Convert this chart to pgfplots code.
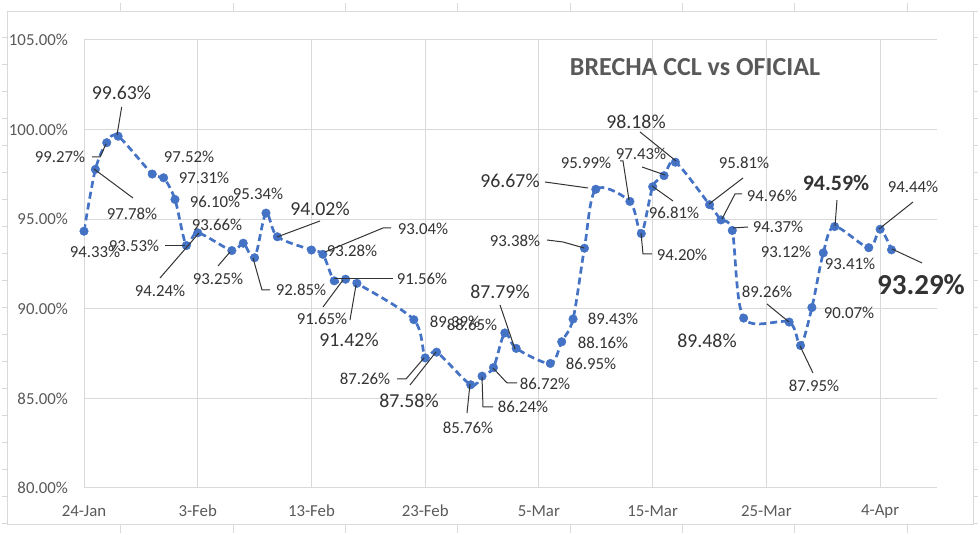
\documentclass[border=0pt]{standalone}
\usepackage{fontspec}
\setmainfont{Carlito}
\usepackage{pgfplots}
\pgfplotsset{compat=1.18}
\definecolor{xlblue}{HTML}{4472C4}
\definecolor{gridc}{HTML}{D9D9D9}
\definecolor{tickc}{HTML}{595959}
\definecolor{labc}{HTML}{333333}
\newcommand{\fn}{\fontsize{16.8bp}{19bp}\selectfont}
\newcommand{\fl}{\fontsize{19.8bp}{22bp}\selectfont}
\newcommand{\fba}{\fontsize{22bp}{25bp}\selectfont\bfseries}
\newcommand{\fbb}{\fontsize{29bp}{32bp}\selectfont\bfseries}

% day offset from 24-Jan, gap in %
\pgfplotstableread{
d v
0 94.33
1 97.78
2 99.27
3 99.63
6 97.52
7 97.31
8 96.10
9 93.53
10 94.24
13 93.25
14 93.66
15 92.85
16 95.34
17 94.02
20 93.28
21 93.04
22 91.56
23 91.65
24 91.42
29 89.39
30 87.26
31 87.58
34 85.76
35 86.24
36 86.72
37 88.65
38 87.79
41 86.95
42 88.16
43 89.43
44 93.38
45 96.67
48 95.99
49 94.20
50 96.81
51 97.43
52 98.18
55 95.81
56 94.96
57 94.37
58 89.48
62 89.26
63 87.95
64 90.07
65 93.12
66 94.59
69 93.41
70 94.44
71 93.29
}\brecha

\begin{document}
\begin{tikzpicture}[x=1bp,y=1bp]
\useasboundingbox (0,0) rectangle (980,535);
\begin{axis}[
  at={(84bp,47bp)}, anchor=south west,
  scale only axis, width=853bp, height=448bp,
  xmin=0, xmax=75, ymin=80, ymax=105,
  axis lines=left,
  axis line style={draw=gridc, line width=1bp, -},
  grid=major,
  major grid style={draw=gridc, line width=1bp},
  major tick length=0pt,
  xtick={0,10,...,70},
  xticklabels={24-Jan,3-Feb,13-Feb,23-Feb,5-Mar,15-Mar,25-Mar,4-Apr},
  ytick={80,85,...,105},
  yticklabels={80.00\%,85.00\%,90.00\%,95.00\%,100.00\%,105.00\%},
  xticklabel style={font=\fn, text=tickc, anchor=center, inner sep=0pt, yshift=-23bp},
  yticklabel style={font=\fn, text=tickc, anchor=east, inner sep=0pt, xshift=-16bp},
  /pgf/number format/assume math mode=true,
]
\addplot[xlblue, line width=2.7bp, dash pattern=on 7bp off 4bp, smooth, tension=0.5,
  mark=*, mark size=4.3bp, mark options={solid, fill=xlblue, draw=xlblue, line width=0.4bp}]
  table[x=d, y=v] {\brecha};
\end{axis}

\begin{scope}[yshift=535bp, y=-1bp]
% outer frame
\draw[gridc, line width=1bp] (7,12) -- (978,12);
\draw[gridc, line width=1bp] (7,12) -- (7,525) -- (973,525) -- (973,12);
\foreach \x in {120,233,345,457,570,682,794,907} {
  \draw[gridc, line width=1bp] (\x,12) -- (\x,3);
  \draw[gridc, line width=1bp] (\x,525) -- (\x,533);
}
\foreach \y in {38,65,...,524} {
  \draw[gridc, line width=1bp] (7,\y) -- (2,\y);
  \draw[gridc, line width=1bp] (973,\y) -- (978,\y);
}
% title
\node[font=\fontsize{26bp}{29bp}\selectfont\bfseries, text=tickc, inner sep=0pt] at (695,67) {BRECHA CCL vs OFICIAL};

% leader lines
\begin{scope}[draw=labc, line width=1bp]
\draw (94,169) -- (133,198);
\draw (92,157) -- (100,157) -- (106,144);
\draw (121.7,107) -- (117,135);
\draw (165,246) -- (185,246);
\draw (160,278) -- (199,233);
\draw (218,266) -- (230,252);
\draw (253,258) -- (262,290) -- (270,290);
\draw (320,221) -- (277,237);
\draw (391,228) -- (383,228) -- (325,252);
\draw (393,279) -- (334,279);
\draw (323,307) -- (343,280);
\draw (350,320) -- (356,285);
\draw (397,379) -- (406,379) -- (424,358);
\draw (410,385) -- (436,352);
\draw (467,413) -- (470,384);
\draw (482,377) -- (483,407) -- (493,407);
\draw (493,368) -- (507,383) -- (517,383);
\draw (500,305) -- (515,349);
\draw (547,240) -- (563,242) -- (584,248);
\draw (545,182) -- (588,188);
\draw (620,161) -- (623,161) -- (629,200);
\draw (641,233) -- (643,254) -- (652,254);
\draw (652,186) -- (673,201);
\draw (642,167) -- (665,175);
\draw (640,132) -- (676,161);
\draw (743,178) -- (709,204);
\draw (742,194) -- (735,194) -- (722,219);
\draw (748,227) -- (733,228);
\draw (767,304) -- (789,322);
\draw (813,373) -- (800,346);
\draw (837,200) -- (835,226);
\draw (913,202) -- (879,229);
\draw (922,263) -- (892,249);
\end{scope}

% data labels
\begin{scope}[every node/.style={text=labc, inner sep=0pt, font=\fn}]
\node at (95,252) {94.33\%};
\node at (132,214) {97.78\%};
\node at (60,157) {99.27\%};
\node[font=\fl] at (121.5,93) {99.63\%};
\node at (189,157) {97.52\%};
\node at (204,178) {97.31\%};
\node at (215,202) {96.10\%};
\node at (134,246) {93.53\%};
\node at (160,291) {94.24\%};
\node at (218,279) {93.25\%};
\node at (217,225) {93.66\%};
\node at (301,290) {92.85\%};
\node at (258,194) {95.34\%};
\node[font=\fl] at (320,209) {94.02\%};
\node at (352,251) {93.28\%};
\node at (423,229) {93.04\%};
\node at (422,279) {91.56\%};
\node at (322,319) {91.65\%};
\node[font=\fl] at (349,340) {91.42\%};
\node at (455,322) {89.39\%};
\node at (365,379) {87.26\%};
\node[font=\fl] at (409,401) {87.58\%};
\node at (468,428) {85.76\%};
\node at (523,407) {86.24\%};
\node at (545,384) {86.72\%};
\node at (472,325) {88.65\%};
\node[font=\fl] at (500,292) {87.79\%};
\node at (591,364) {86.95\%};
\node at (603,343) {88.16\%};
\node at (613,319) {89.43\%};
\node at (515,241) {93.38\%};
\node[font=\fl] at (510,181) {96.67\%};
\node at (586,163) {95.99\%};
\node at (682,255) {94.20\%};
\node at (674,213) {96.81\%};
\node at (641,154) {97.43\%};
\node[font=\fl] at (636,122) {98.18\%};
\node at (744,163) {95.81\%};
\node at (772,196) {94.96\%};
\node at (778,227) {94.37\%};
\node[font=\fl] at (707,341) {89.48\%};
\node at (767,292) {89.26\%};
\node at (814,386) {87.95\%};
\node at (849,313) {90.07\%};
\node at (786,252) {93.12\%};
\node at (850,264) {93.41\%};
\node[font=\fba] at (836,183) {94.59\%};
\node at (913,187) {94.44\%};
\node[font=\fbb] at (921,285) {93.29\%};
\end{scope}
\end{scope}
\end{tikzpicture}
\end{document}
